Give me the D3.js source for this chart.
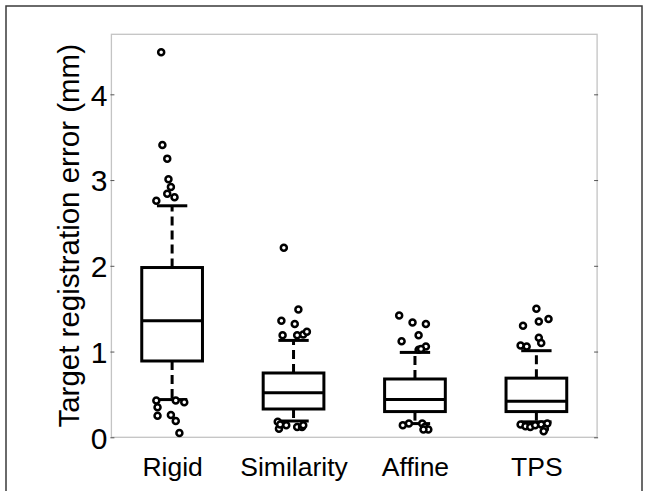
<!DOCTYPE html>
<html>
<head>
<meta charset="utf-8">
<script src="https://cdn.jsdelivr.net/npm/d3@7"></script>
<style>
  body { margin: 0; background: #fff; }
  text { font-family: "Liberation Sans", Arial, sans-serif; fill: #000; }
</style>
</head>
<body>
<svg id="chart" width="647" height="491"></svg>
<script>
// values
var categories = ["Rigid", "Similarity", "Affine", "TPS"];
var q1 = [0.89, 0.33, 0.30, 0.30];
var medians = [1.36, 0.52, 0.44, 0.42];
var q3 = [1.98, 0.75, 0.68, 0.69];
var whiskerLow = [0.44, 0.19, 0.16, 0.18];
var whiskerHigh = [2.70, 1.13, 0.99, 1.01];
var yTicks = [0, 1, 2, 3, 4];

// outliers: [value, horizontal jitter in category units]
var outliersRigid = [[4.49, -0.09], [3.41, -0.08], [3.25, -0.04], [3.01, -0.03], [2.92, -0.01],
    [2.84, -0.04], [2.80, 0.02], [2.76, -0.13],
    [0.43, -0.13], [0.35, -0.12], [0.25, -0.12], [0.43, 0.03], [0.41, 0.10],
    [0.26, -0.01], [0.19, 0.03], [0.05, 0.06]];
var outliersSimilarity = [[2.21, -0.08], [1.49, 0.04], [1.36, -0.10], [1.32, 0.01], [1.19, -0.09],
    [1.19, 0.03], [1.20, 0.08], [1.23, 0.11],
    [0.18, -0.13], [0.10, -0.12], [0.15, -0.11], [0.14, -0.06], [0.12, 0.03], [0.12, 0.07], [0.14, 0.08]];
var outliersAffine = [[1.42, -0.13], [1.34, -0.02], [1.32, 0.09], [1.19, 0.03], [1.12, -0.11],
    [1.02, 0.03], [1.06, 0.09], [1.03, 0.05],
    [0.14, -0.10], [0.16, -0.05], [0.16, 0.06], [0.12, 0.08], [0.09, 0.11], [0.09, 0.07]];
var outliersTPS = [[1.50, 0.00], [1.38, 0.10], [1.35, 0.02], [1.30, -0.11], [1.16, 0.02],
    [1.10, 0.04], [1.07, -0.13], [1.06, -0.08],
    [0.15, -0.13], [0.13, -0.09], [0.12, -0.05], [0.14, -0.01], [0.15, 0.04], [0.16, 0.09],
    [0.10, 0.07], [0.07, 0.06]];
var outliers = [outliersRigid, outliersSimilarity, outliersAffine, outliersTPS];

var svg = d3.select("#chart");
var plotLeft = 111.4, plotRight = 597.1, plotTop = 34.3, plotBottom = 437.3;

var x = d3.scaleLinear().domain([0.5, categories.length + 0.5]).range([plotLeft, plotRight]);
var y = d3.scaleLinear().domain([0, 4.7]).range([plotBottom, plotTop]);
var boxW = x(1.25) - x(1);   // half box width
var capW = boxW / 2;

// outer frame of the figure
svg.append("rect")
    .attr("x", 6).attr("y", 6).attr("width", 636).attr("height", 500)
    .attr("fill", "none").attr("stroke", "#3a3a3a").attr("stroke-width", 1.5);

// axes box
svg.append("rect")
    .attr("x", plotLeft).attr("y", plotTop).attr("width", plotRight - plotLeft).attr("height", plotBottom - plotTop)
    .attr("fill", "none").attr("stroke", "#c4c4c4").attr("stroke-width", 1.3);

// y ticks, both sides
var yAxis = d3.axisLeft(y).tickValues(yTicks).tickSize(3).tickFormat(d3.format("d"));
var gy = svg.append("g").attr("transform", "translate(" + plotLeft + ",0)").call(yAxis);
gy.select(".domain").remove();
gy.selectAll(".tick line").attr("stroke", "#555").attr("x2", 3).attr("x1", -1);
gy.selectAll(".tick text").attr("x", -4).attr("dy", "0.36em")
    .style("font-size", "30px").style("font-family", "Liberation Sans, Arial, sans-serif");

var gyr = svg.append("g").attr("transform", "translate(" + plotRight + ",0)")
    .call(d3.axisRight(y).tickValues(yTicks).tickSize(0).tickFormat(""));
gyr.select(".domain").remove();
gyr.selectAll(".tick line").attr("stroke", "#555").attr("x1", -3).attr("x2", 1);

// x labels
var xAxis = d3.axisBottom(x).tickValues(d3.range(1, categories.length + 1))
    .tickSize(0).tickFormat(function(d) { return categories[d - 1]; });
var gx = svg.append("g").attr("transform", "translate(0," + plotBottom + ")").call(xAxis);
gx.select(".domain").remove();
gx.selectAll(".tick text").attr("y", 39).attr("dy", 0)
    .style("font-size", "26.5px").style("font-family", "Liberation Sans, Arial, sans-serif");

// y label
svg.append("text")
    .attr("transform", "translate(79," + ((plotTop + plotBottom) / 2 + 0) + ") rotate(-90)")
    .attr("text-anchor", "middle")
    .style("font-size", "29.5px")
    .text("Target registration error (mm)");

// boxes
var boxes = svg.append("g");
categories.forEach(function(cat, ii) {
    var cx = x(ii + 1);
    var g = boxes.append("g").attr("fill", "none").attr("stroke", "#000").attr("stroke-width", 3);
    // whiskers
    g.append("line").attr("x1", cx).attr("x2", cx).attr("y1", y(q3[ii])).attr("y2", y(whiskerHigh[ii]))
        .attr("stroke-dasharray", "9,5");
    g.append("line").attr("x1", cx).attr("x2", cx).attr("y1", y(q1[ii])).attr("y2", y(whiskerLow[ii]))
        .attr("stroke-dasharray", "9,5");
    g.append("line").attr("x1", cx - capW).attr("x2", cx + capW)
        .attr("y1", y(whiskerHigh[ii])).attr("y2", y(whiskerHigh[ii]));
    g.append("line").attr("x1", cx - capW).attr("x2", cx + capW)
        .attr("y1", y(whiskerLow[ii])).attr("y2", y(whiskerLow[ii]));
    // box + median
    g.append("rect").attr("x", cx - boxW).attr("y", y(q3[ii]))
        .attr("width", boxW * 2).attr("height", y(q1[ii]) - y(q3[ii]))
        .attr("fill", "#fff");
    g.append("line").attr("x1", cx - boxW).attr("x2", cx + boxW)
        .attr("y1", y(medians[ii])).attr("y2", y(medians[ii]));
    // outliers
    g.selectAll("circle").data(outliers[ii]).enter().append("circle")
        .attr("cx", function(d) { return x(ii + 1 + d[1]); })
        .attr("cy", function(d) { return y(d[0]); })
        .attr("r", 3)
        .attr("fill", "#fff")
        .attr("stroke-width", 2.5);
});
</script>
</body>
</html>
